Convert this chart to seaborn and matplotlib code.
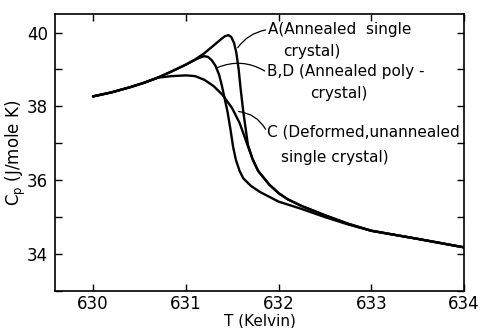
import numpy as np
import pandas as pd
import matplotlib
matplotlib.use("Agg")
import matplotlib.pyplot as plt
import seaborn as sns
from matplotlib.ticker import MultipleLocator

# ---- data (T in K, Cp in J/mole K) ----
t_common = [630.0, 630.2, 630.4, 630.55, 630.7]
cp_common = [38.27, 38.38, 38.52, 38.64, 38.78]

t_a = [630.85, 631.0, 631.1, 631.2, 631.3, 631.38, 631.42, 631.46, 631.49,
       631.52, 631.545, 631.57, 631.59, 631.62, 631.67, 631.72, 631.78,
       631.9, 632.0, 632.1, 632.25, 632.5, 632.75, 633.0, 633.5, 634.0]
cp_a = [38.95, 39.13, 39.27, 39.44, 39.65, 39.82, 39.9, 39.93, 39.88,
        39.72, 39.45, 39.0, 38.5, 37.85, 36.95, 36.57, 36.25,
        35.88, 35.65, 35.48, 35.3, 35.05, 34.82, 34.63, 34.41, 34.18]

t_b = [630.85, 631.0, 631.1, 631.15, 631.2, 631.24, 631.28, 631.32, 631.36,
       631.39, 631.42, 631.45, 631.48, 631.51, 631.54, 631.58, 631.62,
       631.7, 631.8, 632.0, 632.25, 632.5, 632.75, 633.0, 633.5, 634.0]
cp_b = [38.95, 39.13, 39.26, 39.32, 39.36, 39.34, 39.25, 39.1, 38.85,
        38.55, 38.2, 37.85, 37.4, 36.9, 36.55, 36.25, 36.05,
        35.85, 35.68, 35.42, 35.22, 35.0, 34.8, 34.63, 34.41, 34.18]

t_c = [630.85, 631.0, 631.1, 631.2, 631.3, 631.4, 631.5, 631.58, 631.63,
       631.68, 631.72, 631.78, 631.9, 632.0, 632.1, 632.25, 632.5,
       632.75, 633.0, 633.5, 634.0]
cp_c = [38.82, 38.84, 38.82, 38.72, 38.55, 38.3, 37.95, 37.55, 37.2,
        36.85, 36.57, 36.25, 35.88, 35.65, 35.48, 35.3, 35.05,
        34.82, 34.63, 34.41, 34.18]

frames = []
for name, t, cp in [("A", t_a, cp_a), ("B", t_b, cp_b), ("C", t_c, cp_c)]:
    frames.append(pd.DataFrame({"T": t_common + t, "Cp": cp_common + cp, "curve": name}))
df = pd.concat(frames, ignore_index=True)

sns.set_style("ticks")
plt.rcParams["font.family"] = ["DejaVu Sans"]
for key in ["text.color", "axes.labelcolor", "xtick.color", "ytick.color", "axes.edgecolor"]:
    plt.rcParams[key] = "black"

fig = plt.figure(figsize=(4.82, 3.28), dpi=100)
ax = fig.add_axes([0.114, 0.113, 0.849, 0.844])

sns.lineplot(data=df, x="T", y="Cp", units="curve", estimator=None, sort=False,
             color="black", linewidth=1.7, ax=ax, legend=False)

ax.set_xlim(629.59, 634.0)
ax.set_ylim(33.0, 40.5)
ax.xaxis.set_major_locator(MultipleLocator(1))
ax.yaxis.set_major_locator(MultipleLocator(2))
ax.yaxis.set_minor_locator(MultipleLocator(1))
ax.tick_params(axis="both", which="both", direction="in", top=True, right=True,
               length=5, width=1, labelsize=12)
ax.tick_params(axis="x", pad=3)
ax.tick_params(axis="y", pad=5)
for s in ax.spines.values():
    s.set_linewidth(1.2)

ax.set_xlabel("T (Kelvin)", fontsize=11, labelpad=0)
ax.set_ylabel(r"C$_\mathrm{p}$ (J/mole K)", fontsize=12, labelpad=-1)

# labels with leader lines
fs = 11
ax.text(631.89, 40.07, "A(Annealed  single", fontsize=fs, va="center")
ax.text(632.05, 39.48, "crystal)", fontsize=fs, va="center")
ax.text(631.87, 38.94, "B,D (Annealed poly -", fontsize=fs, va="center")
ax.text(632.34, 38.35, "crystal)", fontsize=fs, va="center")
ax.text(631.88, 37.30, "C (Deformed,unannealed", fontsize=fs, va="center")
ax.text(632.03, 36.62, "single crystal)", fontsize=fs, va="center")

lead = dict(arrowstyle="-", color="black", lw=0.9, shrinkA=0, shrinkB=0)
ax.annotate("", xy=(631.56, 39.59), xytext=(631.86, 40.07),
            arrowprops=dict(lead, connectionstyle="arc3,rad=0.2"))
ax.annotate("", xy=(631.34, 39.05), xytext=(631.85, 38.96),
            arrowprops=dict(lead, connectionstyle="arc3,rad=0.25"))
ax.annotate("", xy=(631.57, 37.86), xytext=(631.86, 37.38),
            arrowprops=dict(lead, connectionstyle="arc3,rad=0.25"))

fig.savefig("out.png", dpi=100)
